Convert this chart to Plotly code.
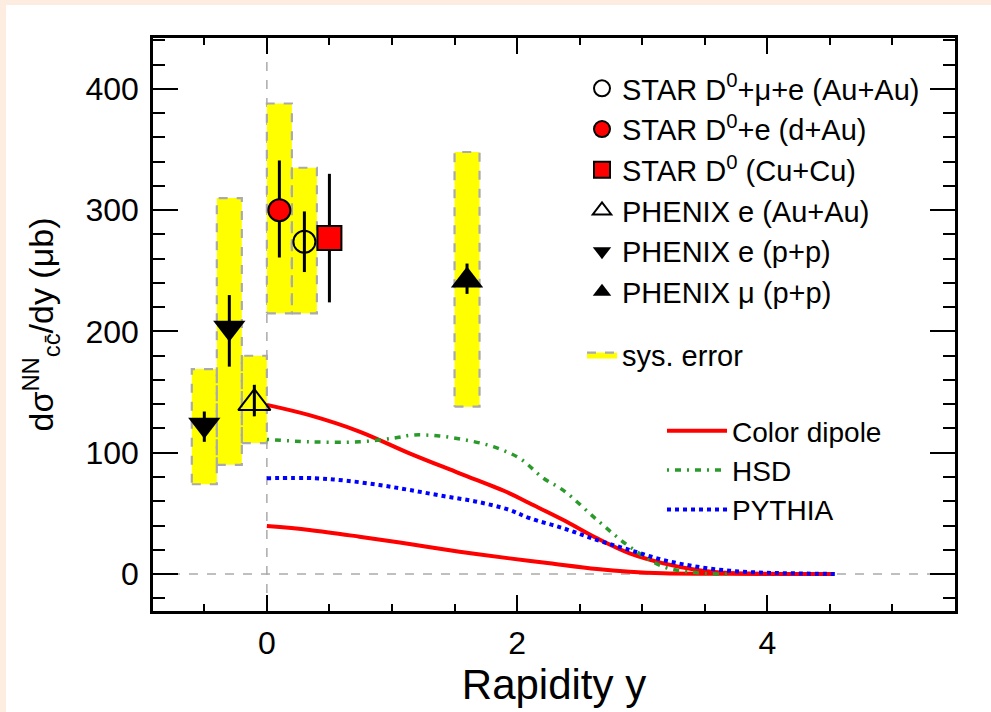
import plotly.graph_objects as go

# ---------------- data ----------------
# measurement points
star_auau_x = [0.3]; star_auau_y = [274]; star_auau_ep = [25]; star_auau_em = [25]
star_dau_x = [0.1]; star_dau_y = [300]; star_dau_ep = [41]; star_dau_em = [39]
star_cucu_x = [0.5]; star_cucu_y = [277]; star_cucu_ep = [53]; star_cucu_em = [53]
phx_auau_x = [-0.1]; phx_auau_y = [141]; phx_auau_ep = [15]; phx_auau_em = [11]
phx_pp_e_x = [-0.5, -0.3]; phx_pp_e_y = [123, 203]; phx_pp_e_ep = [11, 27]; phx_pp_e_em = [14, 32]
phx_pp_mu_x = [1.6]; phx_pp_mu_y = [242]; phx_pp_mu_ep = [14]; phx_pp_mu_em = [11]

# systematic error boxes
sys_x = [-0.5, -0.3, -0.1, 0.1, 0.3, 1.6]
sys_lo = [74, 90, 108, 215, 215, 138]
sys_hi = [169, 310, 180, 388, 335, 348]
sys_halfwidth = 0.1

# model curves
cd_hi_x = [0.0, 0.34, 0.74, 1.14, 1.54, 1.94, 2.10, 2.37, 2.64, 2.90, 3.17, 3.44, 3.70, 4.0, 4.52]
cd_hi_y = [139.5, 131, 117.5, 99.5, 83, 66.5, 58.3, 44.5, 29.4, 17, 8.8, 3.3, 0.8, 0.2, 0]
cd_lo_x = [0.0, 0.34, 0.74, 1.14, 1.54, 1.94, 2.26, 2.64, 2.90, 3.17, 3.5, 4.0, 4.52]
cd_lo_y = [39.5, 36.3, 30.8, 24.7, 18.4, 12.9, 8.8, 4.1, 1.9, 0.6, 0.2, 0.1, 0]
hsd_x = [0.0, 0.34, 0.74, 1.01, 1.17, 1.38, 1.59, 1.81, 2.02, 2.21, 2.37, 2.64, 2.90, 3.17, 3.44, 3.7]
hsd_y = [111, 109, 109, 112, 114.6, 113.8, 110.5, 105, 95.4, 79, 69, 44.5, 22.5, 6, 1, 0]
py_x = [0.0, 0.38, 0.63, 0.9, 1.14, 1.41, 1.68, 1.94, 2.10, 2.37, 2.64, 2.90, 3.17, 3.44, 3.70, 3.97, 4.24, 4.56]
py_y = [79, 79, 77, 73.4, 69.3, 64.3, 59.6, 52.8, 46, 37.7, 28, 19.8, 11.5, 6, 2.7, 1.1, 0.5, 0]

x_range = [-0.91, 5.5]
y_range = [-30.5, 442]

FONT = "Liberation Sans, Arial, sans-serif"

fig = go.Figure()

# sys boxes as one polygon trace
bx, by = [], []
for xc, lo, hi in zip(sys_x, sys_lo, sys_hi):
    bx += [xc - sys_halfwidth, xc + sys_halfwidth, xc + sys_halfwidth, xc - sys_halfwidth, xc - sys_halfwidth, None]
    by += [lo, lo, hi, hi, lo, None]
fig.add_trace(go.Scatter(x=bx, y=by, mode="lines", fill="toself", fillcolor="#ffff00",
                         line=dict(color="#aaaaaa", width=2.2, dash="dash"),
                         name="sys. error", legend="legend", legendgroup="b", legendrank=7,
                         hoverinfo="skip"))

# model curves
fig.add_trace(go.Scatter(x=cd_hi_x, y=cd_hi_y, mode="lines", line=dict(color="#ff0000", width=4, shape="spline"),
                         name="Color dipole", legend="legend2", legendrank=1))
fig.add_trace(go.Scatter(x=cd_lo_x, y=cd_lo_y, mode="lines", line=dict(color="#ff0000", width=4, shape="spline"),
                         name="Color dipole", legend="legend2", showlegend=False))
fig.add_trace(go.Scatter(x=hsd_x, y=hsd_y, mode="lines",
                         line=dict(color="#2a9a2a", width=3.5, dash="2px,6px,6px,6px", shape="spline"),
                         name="HSD", legend="legend2", legendrank=2))
fig.add_trace(go.Scatter(x=py_x, y=py_y, mode="lines", line=dict(color="#0000ff", width=4, dash="dot", shape="spline"),
                         name="PYTHIA", legend="legend2", legendrank=3))

def pts(x, y, ep, em, name, symbol, color, size, rank, lw=2):
    fig.add_trace(go.Scatter(
        x=x, y=y, mode="markers", name=name, legend="legend", legendgroup="a", legendrank=rank,
        error_y=dict(type="data", array=ep, arrayminus=em, color="black", thickness=3, width=0),
        marker=dict(symbol=symbol, color=color, size=size, line=dict(color="black", width=lw))))

pts(star_auau_x, star_auau_y, star_auau_ep, star_auau_em, "STAR D<sup>0</sup>+μ+e (Au+Au)", "circle-open", "black", 22, 1)
pts(star_dau_x, star_dau_y, star_dau_ep, star_dau_em, "STAR D<sup>0</sup>+e (d+Au)", "circle", "#ff0000", 22, 2)
pts(star_cucu_x, star_cucu_y, star_cucu_ep, star_cucu_em, "STAR D<sup>0</sup> (Cu+Cu)", "square", "#ff0000", 24, 3)
pts(phx_auau_x, phx_auau_y, phx_auau_ep, phx_auau_em, "PHENIX e (Au+Au)", "triangle-up-open", "black", 28, 4)
pts(phx_pp_e_x, phx_pp_e_y, phx_pp_e_ep, phx_pp_e_em, "PHENIX e (p+p)", "triangle-down", "black", 28, 5, lw=0)
pts(phx_pp_mu_x, phx_pp_mu_y, phx_pp_mu_ep, phx_pp_mu_em, "PHENIX μ (p+p)", "triangle-up", "black", 28, 6, lw=0)

# layout geometry
W, H = 991, 712
L, R, T, B = 153, 955, 38, 611

def px2paper_x(px):
    return (px - L) / (R - L)

def px2paper_y(py):
    return (B - py) / (B - T)

axis_common = dict(showline=True, linewidth=2.5, linecolor="black", mirror="allticks",
                   ticks="inside", tickcolor="black", tickwidth=2, showgrid=False, zeroline=False,
                   tickfont=dict(family=FONT, size=32, color="black"))

fig.update_layout(
    width=W, height=H,
    margin=dict(l=L, r=W - R, t=T, b=H - B),
    paper_bgcolor="#fdede1", plot_bgcolor="white",
    font=dict(family=FONT, color="black"),
    xaxis=dict(range=x_range, dtick=2, tick0=0, ticklen=16,
               minor=dict(dtick=0.5, ticklen=7, tickwidth=2, ticks="inside", tickcolor="black", showgrid=False),
               title=dict(text="Rapidity y", font=dict(family=FONT, size=42), standoff=6),
               ticklabelstandoff=2,
               **axis_common),
    yaxis=dict(range=y_range, dtick=100, tick0=0, ticklen=25,
               minor=dict(dtick=20, ticklen=12, tickwidth=2, ticks="inside", tickcolor="black", showgrid=False),
               title=dict(text="dσ<sup>NN</sup><sub>cc\u0304</sub>/dy (μb)", font=dict(family=FONT, size=34), standoff=22),
               ticklabelstandoff=5,
               **axis_common),
    legend=dict(x=px2paper_x(582), y=px2paper_y(63), xanchor="left", yanchor="top",
                bgcolor="rgba(0,0,0,0)", borderwidth=0, font=dict(family=FONT, size=29),
                tracegroupgap=22, traceorder="grouped", itemwidth=30),
    legend2=dict(x=px2paper_x(662), y=px2paper_y(406), xanchor="left", yanchor="top",
                 bgcolor="rgba(0,0,0,0)", borderwidth=0, font=dict(family=FONT, size=28),
                 itemwidth=60),
    shapes=[
        dict(type="rect", xref="paper", yref="paper", x0=px2paper_x(6), x1=px2paper_x(W + 5),
             y0=px2paper_y(H + 5), y1=px2paper_y(5), fillcolor="white", line=dict(width=0), layer="below"),
        dict(type="line", xref="x", yref="paper", x0=0, x1=0, y0=0, y1=1,
             line=dict(color="#aaaaaa", width=1.5, dash="dash"), layer="below"),
        dict(type="line", xref="paper", yref="y", x0=0, x1=1, y0=0, y1=0,
             line=dict(color="#aaaaaa", width=1.5, dash="dash"), layer="below"),
    ],
)

fig.write_html("out.html",
               config={"displayModeBar": False},
               post_script="document.body.style.margin='0px';document.body.style.backgroundColor='#fdede1';")
